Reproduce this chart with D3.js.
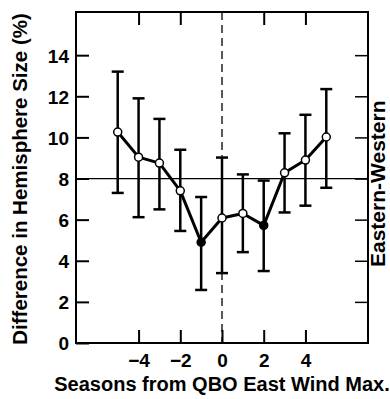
<!DOCTYPE html>
<html>
<head>
<meta charset="utf-8">
<script src="https://cdn.jsdelivr.net/npm/d3@7"></script>
<style>
  body { margin: 0; background: #fff; }
  svg text { font-family: "Liberation Sans", Arial, sans-serif; font-weight: bold; fill: #000; }
</style>
</head>
<body>
<svg id="chart"></svg>
<script>
// seasons relative to QBO east wind maximum
const seasons = [-5, -4, -3, -2, -1, 0, 1, 2, 3, 4, 5];
const meanDiff = [10.26, 9.04, 8.75, 7.4, 4.9, 6.08, 6.3, 5.72, 8.28, 8.9, 10.02];
const upperBar = [13.2, 11.9, 10.9, 9.4, 7.1, 9.02, 8.2, 7.9, 10.2, 11.1, 12.35];
const lowerBar = [7.3, 6.12, 6.5, 5.45, 2.58, 3.4, 4.42, 3.5, 6.35, 6.68, 7.55];
const filled = [false, false, false, false, true, false, false, true, false, false, false];
const xTicks = [-4, -2, 0, 2, 4];
const yTicks = [0, 2, 4, 6, 8, 10, 12, 14];

const config = {
  width: 390, height: 399,
  margin: {top: 12, right: 22, bottom: 56, left: 76}
};
const w = config.width - config.margin.left - config.margin.right;
const h = config.height - config.margin.top - config.margin.bottom;

const data = seasons.map((s, i) => ({
  s, mean: meanDiff[i], hi: upperBar[i], lo: lowerBar[i], filled: filled[i]
}));

const svg = d3.select('#chart')
  .attr('width', config.width)
  .attr('height', config.height);

const chart = svg.append('g')
  .attr('transform', `translate(${config.margin.left},${config.margin.top})`);

const x = d3.scaleLinear().domain([-7, 7]).range([0, w]);
const y = d3.scaleLinear().domain([0, 16.1]).range([h, 0]);

// inward ticks on all four sides
const tickLen = 13;
const axisStyle = g => {
  g.select('.domain').remove();
  g.selectAll('line').attr('stroke', '#000').attr('stroke-width', 2);
  g.selectAll('text').attr('font-size', 19).style('font-family', '"Liberation Sans", Arial, sans-serif').style('font-weight', 'bold');
};

chart.append('g')
  .attr('transform', `translate(0,${h})`)
  .call(d3.axisBottom(x).tickValues(xTicks).tickSizeInner(-tickLen).tickSizeOuter(0).tickPadding(24).tickFormat(d3.format('d')))
  .call(axisStyle)
  .call(g => g.selectAll('text').attr('dy', '0'));

chart.append('g')
  .call(d3.axisTop(x).tickValues(xTicks.filter(d => d !== 0)).tickSizeInner(-tickLen).tickSizeOuter(0).tickFormat(''))
  .call(axisStyle);

chart.append('g')
  .call(d3.axisLeft(y).tickValues(yTicks).tickSizeInner(-tickLen).tickSizeOuter(0).tickPadding(7).tickFormat(d3.format('d')))
  .call(axisStyle)
  .call(g => g.selectAll('text').attr('dy', '0.36em'));

chart.append('g')
  .attr('transform', `translate(${w},0)`)
  .call(d3.axisRight(y).tickValues(yTicks.filter(d => d > 0)).tickSizeInner(-tickLen).tickSizeOuter(0).tickFormat(''))
  .call(axisStyle)
  .call(g => g.selectAll('line').attr('stroke-width', 1.5));

// frame
chart.append('rect')
  .attr('width', w).attr('height', h)
  .attr('fill', 'none').attr('stroke', '#000').attr('stroke-width', 2);

// reference lines
chart.append('line')
  .attr('x1', 0).attr('x2', w)
  .attr('y1', y(8)).attr('y2', y(8))
  .attr('stroke', '#000').attr('stroke-width', 1.3);

chart.append('line')
  .attr('x1', x(0)).attr('x2', x(0))
  .attr('y1', 0).attr('y2', h)
  .attr('stroke', '#000').attr('stroke-width', 1.3)
  .attr('stroke-dasharray', '8,5');

// error bars
const capW = 6;
const bars = chart.append('g').attr('stroke', '#000').attr('stroke-width', 2.5);
bars.selectAll('.err')
  .data(data)
  .join('line')
  .attr('class', 'err')
  .attr('x1', d => x(d.s)).attr('x2', d => x(d.s))
  .attr('y1', d => y(d.hi)).attr('y2', d => y(d.lo));
bars.selectAll('.cap-hi')
  .data(data)
  .join('line')
  .attr('class', 'cap-hi')
  .attr('x1', d => x(d.s) - capW).attr('x2', d => x(d.s) + capW)
  .attr('y1', d => y(d.hi)).attr('y2', d => y(d.hi));
bars.selectAll('.cap-lo')
  .data(data)
  .join('line')
  .attr('class', 'cap-lo')
  .attr('x1', d => x(d.s) - capW).attr('x2', d => x(d.s) + capW)
  .attr('y1', d => y(d.lo)).attr('y2', d => y(d.lo));

// mean line
chart.append('path')
  .datum(data)
  .attr('fill', 'none')
  .attr('stroke', '#000')
  .attr('stroke-width', 3)
  .attr('stroke-linejoin', 'round')
  .attr('d', d3.line().x(d => x(d.s)).y(d => y(d.mean)));

chart.selectAll('.pt')
  .data(data)
  .join('circle')
  .attr('class', 'pt')
  .attr('cx', d => x(d.s))
  .attr('cy', d => y(d.mean))
  .attr('r', 4)
  .attr('fill', d => d.filled ? '#000' : '#fff')
  .attr('stroke', '#000')
  .attr('stroke-width', 1.5);

// axis titles
svg.append('text')
  .attr('x', 222)
  .attr('y', 391)
  .attr('text-anchor', 'middle')
  .attr('font-size', 20)
  .text('Seasons from QBO East Wind Max.');

svg.append('text')
  .attr('transform', 'translate(27,179) rotate(-90)')
  .attr('text-anchor', 'middle')
  .attr('font-size', 20.5)
  .text('Difference in Hemisphere Size (%)');

svg.append('text')
  .attr('transform', 'translate(385,267) rotate(-90)')
  .attr('text-anchor', 'start')
  .attr('font-size', 21)
  .text('Eastern-Western');
</script>
</body>
</html>
